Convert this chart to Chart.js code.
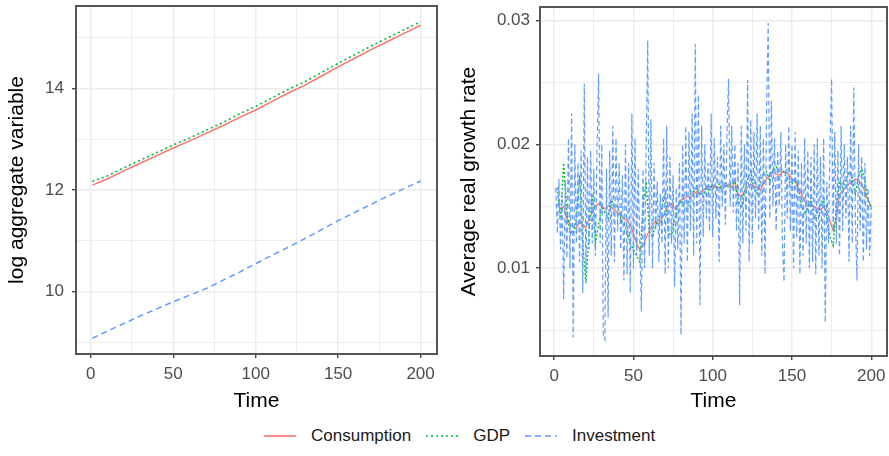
<!DOCTYPE html>
<html>
<head>
<meta charset="utf-8">
<script src="https://cdn.jsdelivr.net/npm/chart.js@4.4.1/dist/chart.umd.min.js"></script>
<style>
  body { margin: 0; background: #fff; width: 889px; height: 456px; overflow: hidden;
         font-family: Arial, "Liberation Sans", sans-serif; }
  #leftWrap { position: absolute; left: 0; top: 0; width: 445px; height: 420px; }
  #rightWrap { position: absolute; left: 445px; top: 0; width: 444px; height: 420px; }
  #legend { position: absolute; left: 263px; top: 424px; height: 24px; display: flex;
            align-items: center; font-size: 17px; color: #1a1a1a; }
  .key { display: flex; align-items: center; margin-right: 14px; }
  .key svg { margin-right: 14px; }
</style>
</head>
<body>
<div id="leftWrap"><canvas id="levelChart" width="445" height="420"></canvas></div>
<div id="rightWrap"><canvas id="growthChart" width="444" height="420"></canvas></div>
<div id="legend">
  <div class="key"><svg width="34" height="6"><line x1="1" y1="3" x2="33" y2="3" stroke="#F8766D" stroke-width="1.6"/></svg>Consumption</div>
  <div class="key"><svg width="34" height="6"><line x1="1" y1="3" x2="33" y2="3" stroke="#00BA38" stroke-width="1.6" stroke-dasharray="2 3"/></svg>GDP</div>
  <div class="key"><svg width="34" height="6"><line x1="1" y1="3" x2="33" y2="3" stroke="#619CFF" stroke-width="1.6" stroke-dasharray="6 4"/></svg>Investment</div>
</div>
<script>
// Series colours (ggplot defaults)
const COLORS = { consumption: '#F8766D', gdp: '#00BA38', investment: '#619CFF' };

// Left panel: log levels, read every 10 periods
const leftTime = [1, 10, 20, 30, 40, 50, 60, 70, 80, 90, 100, 110, 120, 130, 140, 150, 160, 170, 180, 190, 200];
const leftConsumption = [12.10, 12.22, 12.38, 12.53, 12.68, 12.83, 12.97, 13.12, 13.27, 13.43, 13.58,
  13.75, 13.92, 14.07, 14.25, 14.43, 14.60, 14.77, 14.93, 15.09, 15.25];
const leftGdp = [12.17, 12.28, 12.44, 12.59, 12.74, 12.89, 13.03, 13.18, 13.33, 13.50, 13.65,
  13.82, 13.99, 14.14, 14.32, 14.50, 14.67, 14.84, 15.00, 15.16, 15.32];
const leftInvestment = [9.08, 9.22, 9.37, 9.52, 9.66, 9.80, 9.93, 10.06, 10.22, 10.38, 10.55,
  10.72, 10.88, 11.05, 11.22, 11.40, 11.56, 11.72, 11.88, 12.03, 12.18];

// Right panel: growth rates in units of 1e-4
// investment: every period t = 1..200
const rightInvestment = [
  165, 128, 172, 115, 160, 75, 170, 108, 205, 100,
  225, 44, 200, 120, 185, 105, 195, 80, 249, 95,
  190, 115, 195, 120, 180, 110, 195, 257, 120, 200,
  45, 42, 180, 60, 195, 110, 215, 105, 205, 130,
  185, 115, 175, 90, 200, 95, 185, 80, 225, 100,
  205, 110, 180, 120, 65, 180, 100, 195, 284, 110,
  220, 100, 185, 130, 170, 105, 160, 120, 205, 95,
  215, 100, 190, 120, 175, 85, 165, 115, 185, 46,
  200, 120, 215, 105, 210, 130, 225, 110, 281, 120,
  240, 70, 215, 125, 200, 140, 185, 130, 225, 125,
  205, 140, 190, 105, 215, 150, 200, 135, 210, 253,
  150, 215, 145, 200, 130, 185, 70, 215, 120, 200,
  130, 252, 105, 220, 120, 210, 140, 225, 130, 215,
  110, 205, 95, 230, 298, 140, 235, 150, 205, 130,
  195, 150, 210, 120, 89, 200, 140, 215, 130, 200,
  100, 210, 125, 195, 95, 185, 110, 205, 120, 195,
  100, 190, 105, 200, 95, 205, 110, 190, 100, 205,
  56, 170, 120, 200, 253, 130, 210, 120, 195, 110,
  215, 130, 200, 140, 190, 105, 215, 120, 246, 140,
  90, 200, 130, 190, 105, 185, 115, 165, 110, 150
];
// consumption and GDP: every second period t = 2, 4, ..., 200
const rightConsumption = [
  152, 148, 150, 140, 135, 134, 132, 138, 135, 133,
  140, 145, 150, 152, 150, 148, 150, 149, 147, 145,
  142, 140, 138, 135, 128, 120, 115, 118, 125, 130,
  135, 138, 135, 140, 145, 150, 152, 148, 150, 155,
  156, 158, 157, 160, 162, 160, 163, 165, 166, 165,
  166, 165, 167, 166, 168, 165, 170, 160, 158, 162,
  165, 168, 166, 165, 163, 168, 172, 175, 178, 176,
  175, 178, 177, 176, 172, 170, 165, 160, 155, 150,
  152, 150, 148, 147, 150, 145, 138, 130, 140, 160,
  162, 165, 168, 170, 172, 170, 168, 162, 155, 150
];
const rightGdp = [
  165, 140, 185, 145, 130, 128, 140, 175, 120, 88,
  130, 160, 120, 135, 150, 145, 140, 155, 150, 150,
  140, 135, 130, 120, 115, 110, 105, 150, 170, 130,
  125, 135, 140, 150, 160, 130, 125, 140, 150, 155,
  150, 148, 160, 162, 165, 160, 158, 165, 162, 168,
  165, 168, 162, 170, 165, 168, 170, 155, 150, 160,
  172, 178, 165, 160, 170, 175, 178, 170, 180, 182,
  178, 180, 175, 170, 168, 172, 165, 150, 145, 148,
  155, 140, 145, 150, 155, 140, 125, 118, 150, 170,
  165, 170, 178, 172, 160, 175, 180, 170, 155, 148
];

// Axis ticks (major ones carry labels)
const timeTicks = [0, 25, 50, 75, 100, 125, 150, 175, 200];
const timeLabels = [0, 50, 100, 150, 200];
const levelTicks = [9, 10, 11, 12, 13, 14, 15];
const levelLabels = [10, 12, 14];
const growthTicks = [0.005, 0.01, 0.015, 0.02, 0.025, 0.03];
const growthLabels = ['0.01', '0.02', '0.03'];

const FONT = 'Arial, "Liberation Sans", sans-serif';

// Panel border like ggplot theme_bw
const panelBorder = {
  id: 'panelBorder',
  afterDraw(chart) {
    const { ctx, chartArea: a } = chart;
    ctx.save();
    ctx.strokeStyle = '#555555';
    ctx.lineWidth = 2;
    ctx.strokeRect(a.left, a.top, a.right - a.left, a.bottom - a.top);
    ctx.restore();
  }
};

function isMajor(value, labels) {
  return labels.some(l => Math.abs(Number(l) - value) < 1e-9);
}

function makeOptions(cfg) {
  return {
    responsive: false,
    animation: false,
    layout: { padding: { top: cfg.padTop, right: cfg.padRight, left: 0, bottom: 0 } },
    plugins: { legend: { display: false }, tooltip: { enabled: false } },
    scales: {
      x: {
        type: 'linear',
        min: -8.95,
        max: 209.95,
        afterBuildTicks: s => { s.ticks = timeTicks.map(v => ({ value: v })); },
        afterFit: s => { s.height = cfg.xHeight; s.paddingLeft = 0; s.paddingRight = 0; },
        border: { display: false },
        grid: {
          color: '#EBEBEB',
          lineWidth: c => isMajor(c.tick.value, timeLabels) ? 1.4 : 0.9,
          tickLength: 4,
          tickColor: c => isMajor(c.tick.value, timeLabels) ? '#444444' : 'rgba(0,0,0,0)'
        },
        ticks: {
          font: { size: 17, family: FONT },
          color: '#4D4D4D',
          padding: 6,
          maxRotation: 0,
          autoSkip: false,
          callback: v => isMajor(v, timeLabels) ? String(v) : ''
        },
        title: {
          display: true, text: 'Time', color: '#000',
          font: { size: 21, family: FONT },
          padding: { top: 0, bottom: 6 }
        }
      },
      y: {
        type: 'linear',
        min: cfg.yMin,
        max: cfg.yMax,
        afterBuildTicks: s => { s.ticks = cfg.yTicks.map(v => ({ value: v })); },
        afterFit: s => { s.width = cfg.yWidth; s.paddingTop = 0; s.paddingBottom = 0; },
        border: { display: false },
        grid: {
          color: '#EBEBEB',
          lineWidth: c => isMajor(c.tick.value, cfg.yLabels) ? 1.4 : 0.9,
          tickLength: 4,
          tickColor: c => isMajor(c.tick.value, cfg.yLabels) ? '#444444' : 'rgba(0,0,0,0)'
        },
        ticks: {
          font: { size: 17, family: FONT },
          color: '#4D4D4D',
          padding: cfg.yTickPad,
          autoSkip: false,
          callback: v => {
            const hit = cfg.yLabels.find(l => Math.abs(Number(l) - v) < 1e-9);
            return hit === undefined ? '' : String(hit);
          }
        },
        title: {
          display: true, text: cfg.yTitle, color: '#000',
          font: { size: 21, family: FONT },
          padding: { top: cfg.yTitlePad, bottom: 0 }
        }
      }
    }
  };
}

function lineSet(label, points, color, dash, width, order) {
  return {
    label: label,
    data: points,
    borderColor: color,
    borderWidth: width,
    borderDash: dash,
    pointRadius: 0,
    tension: 0,
    fill: false,
    order: order
  };
}

document.addEventListener('DOMContentLoaded', function() {
  // Left panel
  const toPts = (xs, ys) => xs.map((x, i) => ({ x: x, y: ys[i] }));
  new Chart(document.getElementById('levelChart'), {
    type: 'line',
    data: {
      datasets: [
        lineSet('Consumption', toPts(leftTime, leftConsumption), COLORS.consumption, [], 1.5, 2),
        lineSet('GDP', toPts(leftTime, leftGdp), COLORS.gdp, [2, 3], 1.6, 1),
        lineSet('Investment', toPts(leftTime, leftInvestment), COLORS.investment, [6, 4], 1.5, 0)
      ]
    },
    options: makeOptions({
      padTop: 6, padRight: 8, xHeight: 66, yWidth: 76, yTickPad: 8, yTitlePad: 5,
      yMin: 8.77, yMax: 15.63, yTicks: levelTicks, yLabels: levelLabels,
      yTitle: 'log aggregate variable'
    }),
    plugins: [panelBorder]
  });

  // Right panel (values stored in 1e-4 units)
  const invPts = rightInvestment.map((v, i) => ({ x: i + 1, y: v / 10000 }));
  const consPts = rightConsumption.map((v, i) => ({ x: 2 * (i + 1), y: v / 10000 }));
  const gdpPts = rightGdp.map((v, i) => ({ x: 2 * (i + 1), y: v / 10000 }));
  new Chart(document.getElementById('growthChart'), {
    type: 'line',
    data: {
      datasets: [
        lineSet('Consumption', consPts, COLORS.consumption, [], 1.3, 2),
        lineSet('GDP', gdpPts, COLORS.gdp, [2, 2], 1.4, 1),
        lineSet('Investment', invPts, COLORS.investment, [5, 3], 1.2, 0)
      ]
    },
    options: makeOptions({
      padTop: 7, padRight: 2, xHeight: 64, yWidth: 95, yTickPad: 6, yTitlePad: 12,
      yMin: 0.0029, yMax: 0.0311, yTicks: growthTicks, yLabels: growthLabels,
      yTitle: 'Average real growth rate'
    }),
    plugins: [panelBorder]
  });
});
</script>
</body>
</html>
